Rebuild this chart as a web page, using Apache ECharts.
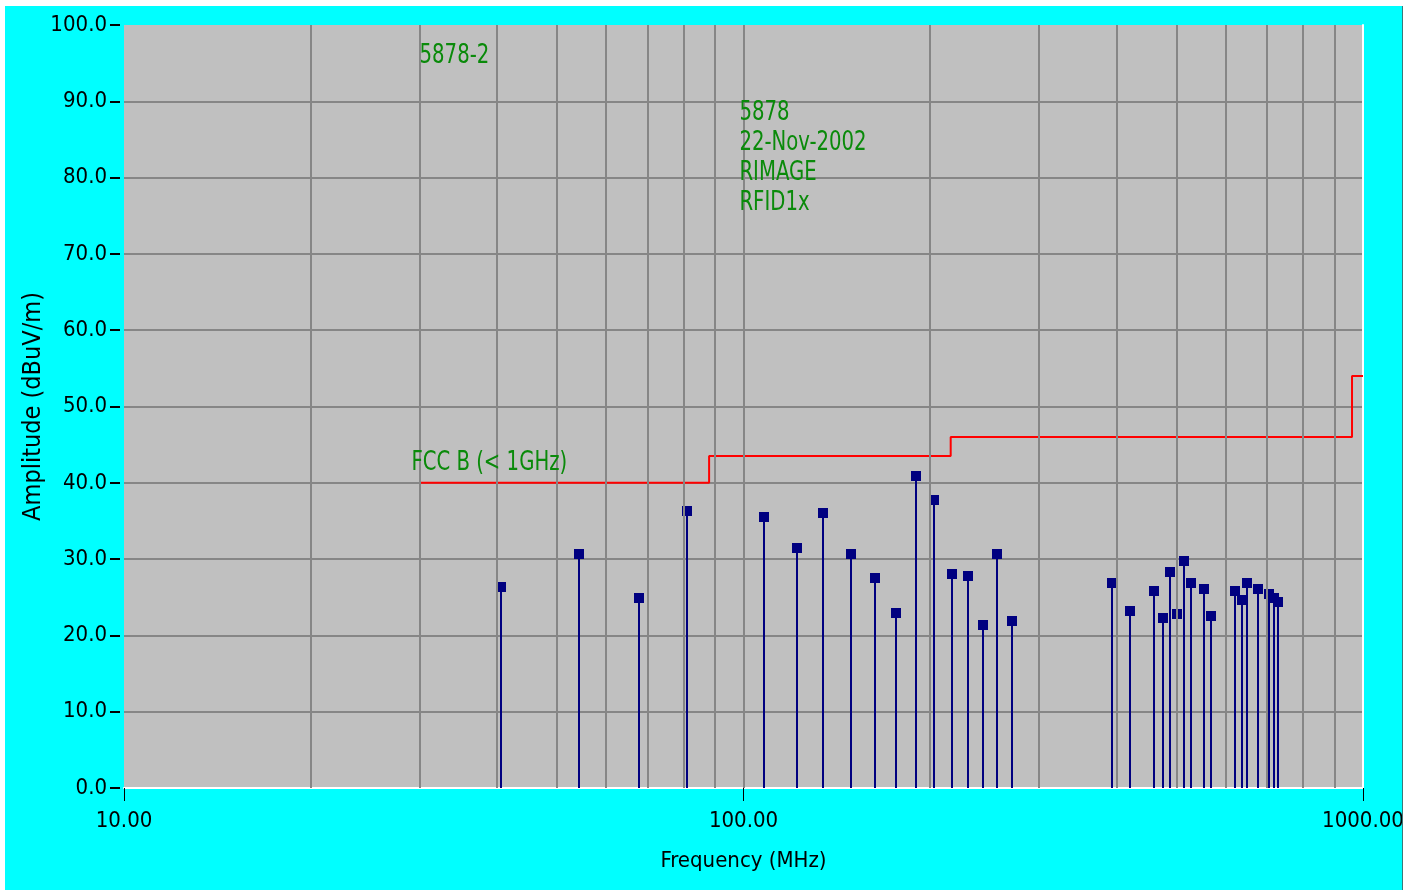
<!DOCTYPE html>
<html>
<head>
<meta charset="utf-8">
<script src="https://cdn.jsdelivr.net/npm/echarts@6/dist/echarts.min.js"></script>
<style>
  html, body { margin: 0; padding: 0; background: #ffffff; width: 1416px; height: 891px; overflow: hidden; }
  #chart { position: absolute; left: 5px; top: 6px; width: 1397px; height: 884px; border-right: 1px solid #3a7a7a; }
</style>
</head>
<body>
<div id="chart"></div>
<script>
// Measured emissions (frequency in MHz, amplitude in dBuV/m)
const freqs = [40.6, 54.3, 67.9, 81.2, 108.1, 121.8, 134.6, 148.9, 162.8, 176.1, 189.7, 202.8, 216.9, 230.2, 243.4, 256.5, 271.2,
               393, 420.4, 459.6, 475.3, 487.8, 500.5, 513.6, 527.1, 553.4, 568.1, 621, 637.6, 649.6, 676.3, 704.6, 717.8, 728.8];
const amps  = [26.3, 30.7, 24.9, 36.3, 35.5, 31.5, 36.0, 30.7, 27.5, 22.9, 40.9, 37.7, 28.0, 27.8, 21.4, 30.7, 21.9,
               26.9, 23.2, 25.8, 22.3, 28.3, 22.8, 29.8, 26.9, 26.1, 22.5, 25.8, 24.6, 26.9, 26.1, 25.4, 24.9, 24.4];

// FCC class B limit (< 1 GHz)
const limitFreqs = [30, 88, 216, 960, 1000];
const limitAmps  = [40, 43.5, 46, 54, 54];

// Vertical (log) grid lines
const gridFreqs = [20, 30, 40, 50, 60, 70, 80, 90, 100, 200, 300, 400, 500, 600, 700, 800, 900];

// Text annotations
const annoTexts = ['5878-2', '5878', '22-Nov-2002', 'RIMAGE', 'RFID1x', 'FCC B (< 1GHz)'];
const annoFreqs = [30, 98.5, 98.5, 98.5, 98.5, 29.1];
const annoAmps  = [95.9, 88.5, 84.5, 80.6, 76.7, 42.6];

const FONT = "'DejaVu Sans Condensed', 'Liberation Sans Narrow', sans-serif";

const chart = echarts.init(document.getElementById('chart'), null, { renderer: 'canvas' });

const option = {
  backgroundColor: '#00ffff',
  animation: false,
  grid: { left: 119, top: 19, right: 39, bottom: 102, show: true, backgroundColor: '#c0c0c0', borderWidth: 0,
          containLabel: false, outerBoundsMode: 'none' },
  xAxis: {
    type: 'log', logBase: 10, min: 10, max: 1000,
    name: 'Frequency (MHz)', nameLocation: 'middle', nameGap: 62, nameMoveOverlap: false,
    nameTextStyle: { color: '#000', fontFamily: FONT, fontSize: 22 },
    axisLine: { show: true, lineStyle: { color: '#ffffff', width: 2 } },
    axisTick: { show: true, length: 13, lineStyle: { color: '#000', width: 1 } },
    axisLabel: { color: '#000', fontFamily: FONT, fontSize: 22, margin: 22, formatter: v => Number(v).toFixed(2) },
    splitLine: { show: false },
    minorTick: { show: false }
  },
  yAxis: [{
    type: 'value', min: 0, max: 100, interval: 10, offset: 4,
    name: 'Amplitude (dBuV/m)', nameLocation: 'middle', nameGap: 74, nameMoveOverlap: false,
    nameTextStyle: { color: '#000', fontFamily: FONT, fontSize: 25 },
    axisLine: { show: false },
    axisTick: { show: true, length: 10, lineStyle: { color: '#000', width: 2 } },
    axisLabel: { color: '#000', fontFamily: FONT, fontSize: 22, margin: 13, formatter: v => Number(v).toFixed(1) },
    splitLine: { show: false }
  }, {
    type: 'value', min: 0, max: 100, interval: 10, position: 'right',
    axisLine: { show: true, lineStyle: { color: '#ffffff', width: 2 } },
    axisTick: { show: false }, axisLabel: { show: false }, splitLine: { show: false }
  }, {
    type: 'value', min: 0, max: 100, interval: 10, position: 'left',
    axisLine: { show: false }, axisTick: { show: false }, axisLabel: { show: false },
    splitLine: { show: true, showMinLine: false, showMaxLine: false, lineStyle: { color: '#868686', width: 2 } }
  }],
  series: [
    {
      type: 'line', silent: true, yAxisIndex: 0, data: [], symbol: 'none', z: 1,
      markLine: {
        silent: true, symbol: 'none', label: { show: false },
        lineStyle: { color: '#868686', width: 2, type: 'solid' },
        data: gridFreqs.map(f => ({ xAxis: f }))
      }
    },
    {
      type: 'line', name: 'FCC B', step: 'end', symbol: 'none', z: 3,
      lineStyle: { color: '#ff0000', width: 2 },
      data: limitFreqs.map((f, i) => [f, limitAmps[i]])
    },
    {
      type: 'custom', z: 4,
      data: freqs.map((f, i) => [f, amps[i]]),
      renderItem: function (params, api) {
        const base = api.coord([api.value(0), 0]);
        const top = api.coord([api.value(0), api.value(1)]);
        const x = Math.round(top[0]);
        const y = Math.round(top[1]);
        return {
          type: 'group',
          children: [
            { type: 'line', shape: { x1: x, y1: base[1], x2: x, y2: y }, style: { stroke: '#000080', lineWidth: 2 } },
            { type: 'rect', shape: { x: x - 5, y: y - 5, width: 10, height: 10 }, style: { fill: '#000080' } }
          ]
        };
      }
    },
    {
      type: 'custom', z: 5,
      data: annoFreqs.map((f, i) => [f, annoAmps[i], i]),
      renderItem: function (params, api) {
        const p = api.coord([api.value(0), api.value(1)]);
        return {
          type: 'text',
          x: p[0], y: p[1], scaleX: 0.875, scaleY: 1.05,
          style: { text: annoTexts[api.value(2)], fill: '#0a8a0a', font: '25px ' + FONT, textAlign: 'left', textVerticalAlign: 'middle' }
        };
      }
    }
  ]
};
chart.setOption(option);
</script>
</body>
</html>
